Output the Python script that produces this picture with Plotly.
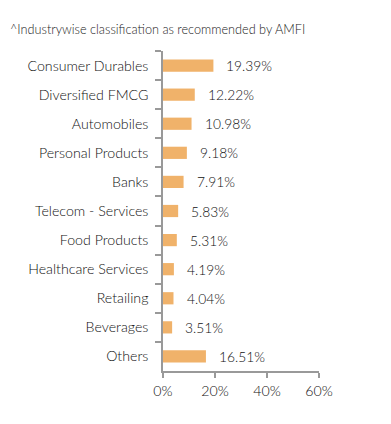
import plotly.graph_objects as go

categories = ["Consumer Durables", "Diversified FMCG", "Automobiles", "Personal Products",
              "Banks", "Telecom - Services", "Food Products", "Healthcare Services",
              "Retailing", "Beverages", "Others"]
values = [19.39, 12.22, 10.98, 9.18, 7.91, 5.83, 5.31, 4.19, 4.04, 3.51, 16.51]
tick_vals = [0, 20, 40, 60]
tick_text = ["0%", "20%", "40%", "60%"]
title_text = "^Industrywise classification as recommended by AMFI"

fig = go.Figure()
fig.add_trace(go.Bar(
    x=values, y=categories, orientation="h",
    marker=dict(color="#F0B26A", line=dict(width=0)),
    width=0.42, hoverinfo="skip",
))

for v, c in zip(values, categories):
    fig.add_annotation(x=v, y=c, text=f"{v:.2f}%", showarrow=False,
                       xanchor="left", xshift=11,
                       font=dict(family="Lato", size=13.8, color="#111111", weight=300))

fig.add_annotation(xref="paper", yref="paper", x=-155/156, y=1 + 22 / 320,
                   xanchor="left", yanchor="middle", showarrow=False,
                   text=title_text, font=dict(family="Lato", size=12.7, color="#222222"))

fig.update_layout(
    width=383, height=416,
    margin=dict(l=155, r=72, t=43, b=53),
    paper_bgcolor="white", plot_bgcolor="white",
    showlegend=False,
    font=dict(family="Lato", color="#111111", weight=300),
    xaxis=dict(range=[0, 60], tickvals=tick_vals, ticktext=tick_text, automargin=False,
               showgrid=False, zeroline=False, showline=True, linecolor="#999999",
               linewidth=1.5, ticks="outside", ticklen=5, tickcolor="#999999",
               tickwidth=1.5, ticklabelstandoff=1,
               tickfont=dict(family="Lato", size=14.2, color="#111111", weight=300)),
    yaxis=dict(autorange="reversed", showgrid=False, zeroline=False, showline=True,
               linecolor="#999999", linewidth=1.5, ticks="outside", ticklen=6,
               tickcolor="#999999", tickwidth=1.5, tickson="boundaries",
               ticklabelstandoff=10, automargin=False,
               tickfont=dict(family="Lato", size=14.2, color="#111111", weight=300)),
)

fig.write_html("out.html")
